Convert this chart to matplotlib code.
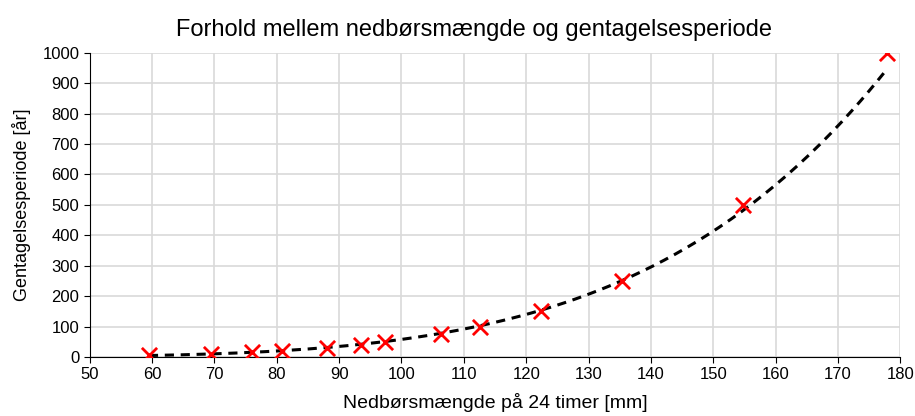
import numpy as np
import matplotlib
matplotlib.use("Agg")
import matplotlib.pyplot as plt

plt.rcParams['font.family'] = ['Liberation Sans', 'DejaVu Sans']

# data
rain_mm = [59.5, 69.4, 76.0, 80.8, 88.0, 93.5, 97.3, 106.3, 112.6, 122.4, 135.4, 154.8, 177.8]
period_yr = [5, 10, 15, 20, 30, 40, 50, 75, 100, 150, 250, 500, 1000]

x = np.array(rain_mm)
y = np.array(period_yr)

# power trendline (log-log least squares, like Excel's power trendline)
b, a = np.polyfit(np.log(x), np.log(y), 1)
xf = np.linspace(x.min(), x.max(), 200)
yf = np.exp(a) * xf ** b

fig = plt.figure(figsize=(9.15, 4.16), dpi=100)
ax = fig.add_axes([0.098, 0.142, 0.886, 0.731])

ax.plot(xf, yf, '--', color='black', lw=2.2, dashes=(3, 2.2), zorder=3)
ax.scatter(x, y, marker='x', color='red', s=120, linewidths=2, zorder=4)

ax.set_xlim(50, 180)
ax.set_ylim(0, 1000)
ax.set_xticks(range(50, 181, 10))
ax.set_yticks(range(0, 1001, 100))
ax.grid(True, color='#d9d9d9', lw=1.2)
ax.set_axisbelow(True)
for s in ['top', 'right']:
    ax.spines[s].set_visible(False)
ax.tick_params(labelsize=12, length=4, direction='out')

ax.set_title("Forhold mellem nedbørsmængde og gentagelsesperiode", fontsize=17, pad=12, x=0.474)
ax.set_xlabel("Nedbørsmængde på 24 timer [mm]", fontsize=14, labelpad=8)
ax.set_ylabel("Gentagelsesperiode [år]", fontsize=13, labelpad=8)

fig.savefig("out.png", dpi=100)
